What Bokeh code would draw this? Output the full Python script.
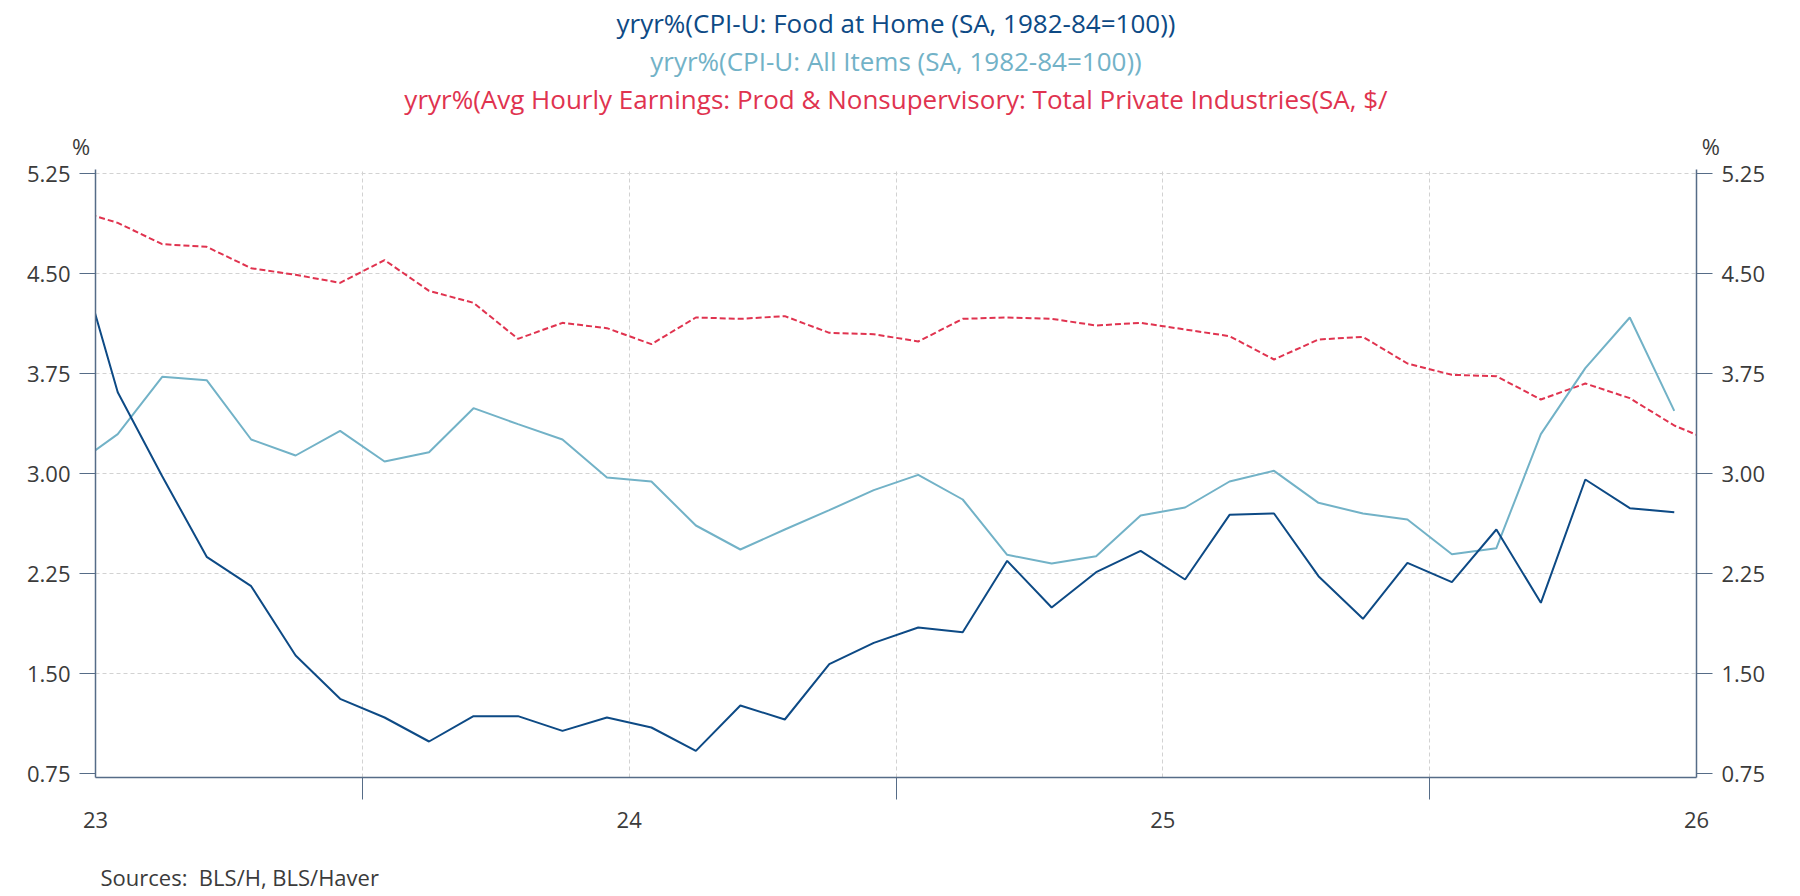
import pandas as pd
from bokeh.plotting import figure
from bokeh.models import ColumnDataSource, LinearAxis, FixedTicker, Title, NumeralTickFormatter, Range1d
from bokeh.embed import file_html
from bokeh.resources import INLINE

# monthly observations, Dec 2022 .. Jan 2026 (the first point and the last AHE
# point sit just outside the axis window and get clipped at the frame)
months = pd.date_range("2022-12-01", "2026-01-01", freq="MS")

food_at_home = [4.77,
                3.61, 2.98, 2.375, 2.155, 1.635, 1.31, 1.17, 0.99, 1.18, 1.18, 1.07, 1.17,
                1.095, 0.92, 1.26, 1.155, 1.57, 1.73, 1.845, 1.81, 2.345, 1.995, 2.26, 2.42,
                2.205, 2.69, 2.70, 2.23, 1.91, 2.33, 2.185, 2.58, 2.03, 2.955, 2.74, 2.71]
all_items = [3.055,
             3.295, 3.725, 3.70, 3.255, 3.135, 3.32, 3.09, 3.16, 3.49, 3.37, 3.255, 2.97,
             2.94, 2.61, 2.43, 2.58, 2.725, 2.875, 2.99, 2.805, 2.39, 2.325, 2.38, 2.685,
             2.745, 2.94, 3.02, 2.78, 2.70, 2.655, 2.395, 2.44, 3.295, 3.79, 4.17, 3.47]
avg_hourly_earnings = [4.98,
                       4.88, 4.72, 4.70, 4.54, 4.49, 4.43, 4.60, 4.37, 4.28, 4.01, 4.13, 4.09,
                       3.97, 4.17, 4.16, 4.18, 4.055, 4.045, 3.99, 4.16, 4.17, 4.16, 4.11, 4.13,
                       4.08, 4.03, 3.855, 4.005, 4.025, 3.825, 3.74, 3.73, 3.555, 3.675, 3.565, 3.36,
                       3.22]

year_ticks = [0, 12, 24, 36]
year_labels = ["23", "24", "25", "26"]
y_ticks = [0.75, 1.5, 2.25, 3.0, 3.75, 4.5, 5.25]

titles = ["yryr%(CPI-U: Food at Home (SA, 1982-84=100))",
          "yryr%(CPI-U: All Items (SA, 1982-84=100))",
          "yryr%(Avg Hourly Earnings: Prod & Nonsupervisory: Total Private Industries(SA, $/"]
source_note = "Sources:\u00a0 BLS/H, BLS/Haver"

FONT = "Open Sans"
DARK = "#0d4a85"
LIGHT = "#72b2c7"
RED = "#e0334f"
AXIS = "#566c87"
TXT = "#3b3b3b"
PAD = "\u00a0" * 5

# month index, placed mid-month; Jan 2023 starts at 0
mx = [(d.year - 2023) * 12 + d.month - 1 + 0.5 for d in months]

src_food = ColumnDataSource(data=dict(x=mx[:len(food_at_home)], y=food_at_home))
src_all = ColumnDataSource(data=dict(x=mx[:len(all_items)], y=all_items))
src_ahe = ColumnDataSource(data=dict(x=mx[:len(avg_hourly_earnings)], y=avg_hourly_earnings))

p = figure(width=1784, height=895, output_backend="svg", toolbar_location=None,
           x_range=Range1d(0, 36), y_range=Range1d(0.72, 5.28), title=None,
           min_border_left=95, min_border_right=88, min_border_top=169, min_border_bottom=0)
p.outline_line_color = None
p.background_fill_color = "white"

p.line('x', 'y', source=src_ahe, line_color=RED, line_width=2, line_dash="6 3")
p.line('x', 'y', source=src_all, line_color=LIGHT, line_width=2)
p.line('x', 'y', source=src_food, line_color=DARK, line_width=2)

# x axis: labels at year starts, tick marks only at mid-year
xax = p.xaxis[0]
xax.ticker = FixedTicker(ticks=year_ticks, minor_ticks=[6, 18, 30])
xax.major_label_overrides = {t: l for t, l in zip(year_ticks, year_labels)}
xax.major_tick_out = 0
xax.major_tick_in = 0
xax.minor_tick_out = 22
xax.minor_tick_in = 0
xax.minor_tick_line_color = AXIS
xax.axis_line_color = AXIS
xax.axis_line_width = 1.5
xax.major_label_standoff = 12
xax.major_label_text_font = FONT
xax.major_label_text_font_size = "22px"
xax.major_label_text_color = TXT

# left and right value axes
yl = p.yaxis[0]
yr = LinearAxis()
p.add_layout(yr, "right")
for ax in (yl, yr):
    ax.ticker = FixedTicker(ticks=y_ticks)
    ax.formatter = NumeralTickFormatter(format="0.00")
    ax.major_tick_out = 16
    ax.major_tick_in = 0
    ax.minor_tick_out = 0
    ax.major_tick_line_color = AXIS
    ax.axis_line_color = AXIS
    ax.axis_line_width = 1.5
    ax.major_label_standoff = 9
    ax.major_label_text_font = FONT
    ax.major_label_text_font_size = "22px"
    ax.major_label_text_color = TXT

# the "%" unit marks above both value axes (padded to sit just outside the frame)
pct = LinearAxis(ticker=FixedTicker(ticks=[0, 36]),
                 major_label_overrides={0: "%" + PAD, 36: PAD + "%"})
pct.axis_line_color = None
pct.major_tick_line_color = None
pct.minor_tick_line_color = None
pct.major_tick_out = 0
pct.major_label_standoff = 9
pct.major_label_text_font = FONT
pct.major_label_text_font_size = "22px"
pct.major_label_text_color = TXT
p.add_layout(pct, "above")

p.xgrid.ticker = FixedTicker(ticks=[6, 12, 18, 24, 30])
p.ygrid.ticker = FixedTicker(ticks=y_ticks[1:])
for g in (p.xgrid, p.ygrid):
    g.grid_line_color = "#d2d2d2"
    g.grid_line_dash = "4 3"
    g.grid_line_width = 1


def spacer(px):
    # blank panel used only to open a gap between stacked side panels
    return Title(text="\u00a0", text_font_size="1px", standoff=px)


# gap between the "%" row and the titles, then three stacked title lines
p.add_layout(spacer(8), "above")
for txt, col in zip(reversed(titles), [RED, LIGHT, DARK]):
    p.add_layout(Title(text=txt, align="center", text_color=col, text_font=FONT,
                       text_font_size="26px", text_font_style="normal", standoff=0), "above")

p.add_layout(spacer(22), "below")
p.add_layout(Title(text=source_note, align="left", offset=5, text_color=TXT, text_font=FONT,
                   text_font_size="22px", text_font_style="normal", standoff=8), "below")

open("out.html", "w").write(file_html(p, INLINE))
